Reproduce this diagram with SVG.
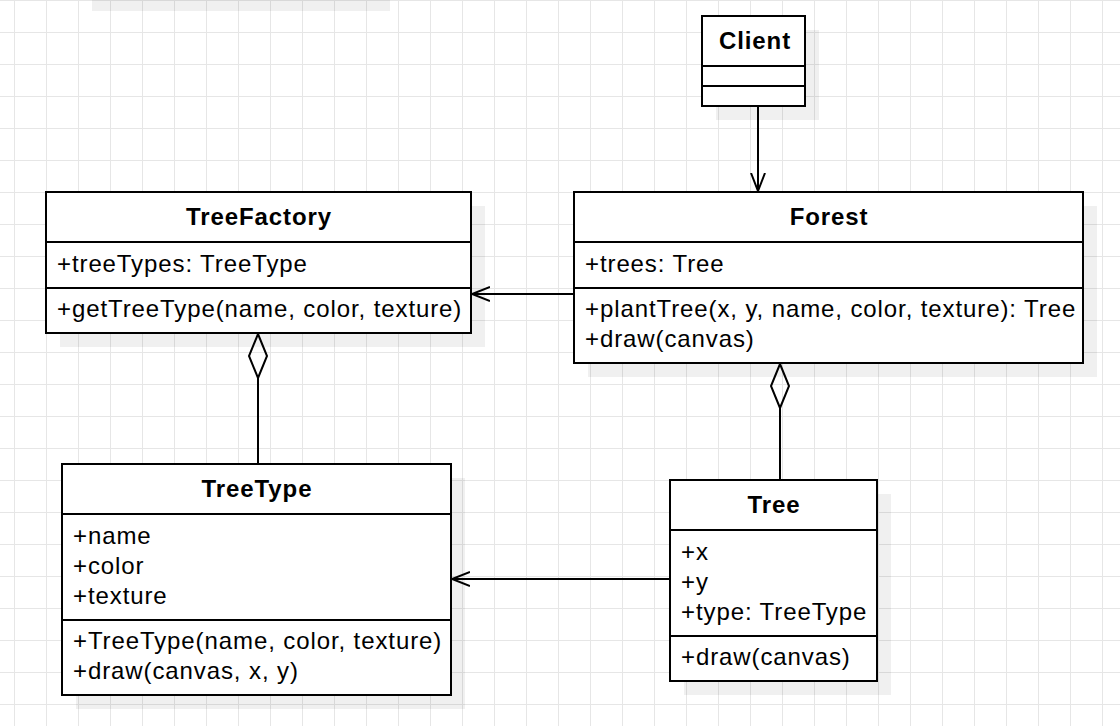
<svg xmlns="http://www.w3.org/2000/svg" width="1120" height="726" viewBox="0 0 1120 726">
<defs>
<pattern id="grid" x="14" y="0" width="32" height="32" patternUnits="userSpaceOnUse">
<path d="M0 0V32M0 0H32" fill="none" stroke="#e6e6e6" stroke-width="2"/>
</pattern>
<marker id="open" viewBox="0 0 20 20" refX="18" refY="10" markerWidth="20" markerHeight="20" markerUnits="userSpaceOnUse" orient="auto">
<path d="M0 3L18 10L0 17" fill="none" stroke="#000" stroke-width="2"/>
</marker>
</defs>
<style>
.box{fill:#fff;stroke:#000;stroke-width:2}
.sh{fill:#000;fill-opacity:0.06}
.t{font-family:"Liberation Sans",Arial,sans-serif;font-size:24px;letter-spacing:0.9px;fill:#000}
.b{font-weight:bold;text-anchor:middle}
.ln{stroke:#000;stroke-width:2;fill:none}
</style>
<rect width="1120" height="726" fill="#fff"/>
<rect width="1120" height="726" fill="url(#grid)"/>
<rect class="sh" x="92" y="0" width="298" height="11"/>
<rect class="sh" x="716" y="30" width="103" height="90"/>
<rect class="sh" x="60" y="206" width="425" height="141"/>
<rect class="sh" x="588" y="206" width="509" height="171"/>
<rect class="sh" x="76" y="478" width="389" height="231"/>
<rect class="sh" x="684" y="494" width="207" height="201"/>
<g id="connectors">
<line class="ln" x1="758" y1="106" x2="758" y2="191" marker-end="url(#open)"/>
<line class="ln" x1="574" y1="294" x2="472" y2="294" marker-end="url(#open)"/>
<line class="ln" x1="670" y1="579" x2="452" y2="579" marker-end="url(#open)"/>
<line class="ln" x1="258" y1="378" x2="258" y2="464"/>
<path class="ln" d="M258 334L267 356L258 378L249 356Z" fill="#fff"/>
<line class="ln" x1="780" y1="408" x2="780" y2="480"/>
<path class="ln" d="M780 364L789 386L780 408L771 386Z" fill="#fff"/>
</g>
<g id="Client">
<rect class="box" x="702" y="16" width="103" height="90"/>
<line class="ln" x1="702" y1="66" x2="805" y2="66"/>
<line class="ln" x1="702" y1="86" x2="805" y2="86"/>
<text class="t b" x="755" y="49">Client</text>
</g>
<g id="TreeFactory">
<rect class="box" x="46" y="192" width="425" height="141"/>
<line class="ln" x1="46" y1="242" x2="471" y2="242"/>
<line class="ln" x1="46" y1="288" x2="471" y2="288"/>
<text class="t b" x="259" y="225">TreeFactory</text>
<text class="t" x="57" y="272">+treeTypes: TreeType</text>
<text class="t" x="57" y="317">+getTreeType(name, color, texture)</text>
</g>
<g id="Forest">
<rect class="box" x="574" y="192" width="509" height="171"/>
<line class="ln" x1="574" y1="242" x2="1083" y2="242"/>
<line class="ln" x1="574" y1="288" x2="1083" y2="288"/>
<text class="t b" x="829" y="225">Forest</text>
<text class="t" x="585" y="272">+trees: Tree</text>
<text class="t" x="585" y="317">+plantTree(x, y, name, color, texture): Tree</text>
<text class="t" x="585" y="347">+draw(canvas)</text>
</g>
<g id="TreeType">
<rect class="box" x="62" y="464" width="389" height="231"/>
<line class="ln" x1="62" y1="514" x2="451" y2="514"/>
<line class="ln" x1="62" y1="620" x2="451" y2="620"/>
<text class="t b" x="257" y="497">TreeType</text>
<text class="t" x="73" y="544">+name</text>
<text class="t" x="73" y="574">+color</text>
<text class="t" x="73" y="604">+texture</text>
<text class="t" x="73" y="649">+TreeType(name, color, texture)</text>
<text class="t" x="73" y="679">+draw(canvas, x, y)</text>
</g>
<g id="Tree">
<rect class="box" x="670" y="480" width="207" height="201"/>
<line class="ln" x1="670" y1="530" x2="877" y2="530"/>
<line class="ln" x1="670" y1="636" x2="877" y2="636"/>
<text class="t b" x="774" y="513">Tree</text>
<text class="t" x="681" y="560">+x</text>
<text class="t" x="681" y="590">+y</text>
<text class="t" x="681" y="620">+type: TreeType</text>
<text class="t" x="681" y="665">+draw(canvas)</text>
</g>
</svg>
